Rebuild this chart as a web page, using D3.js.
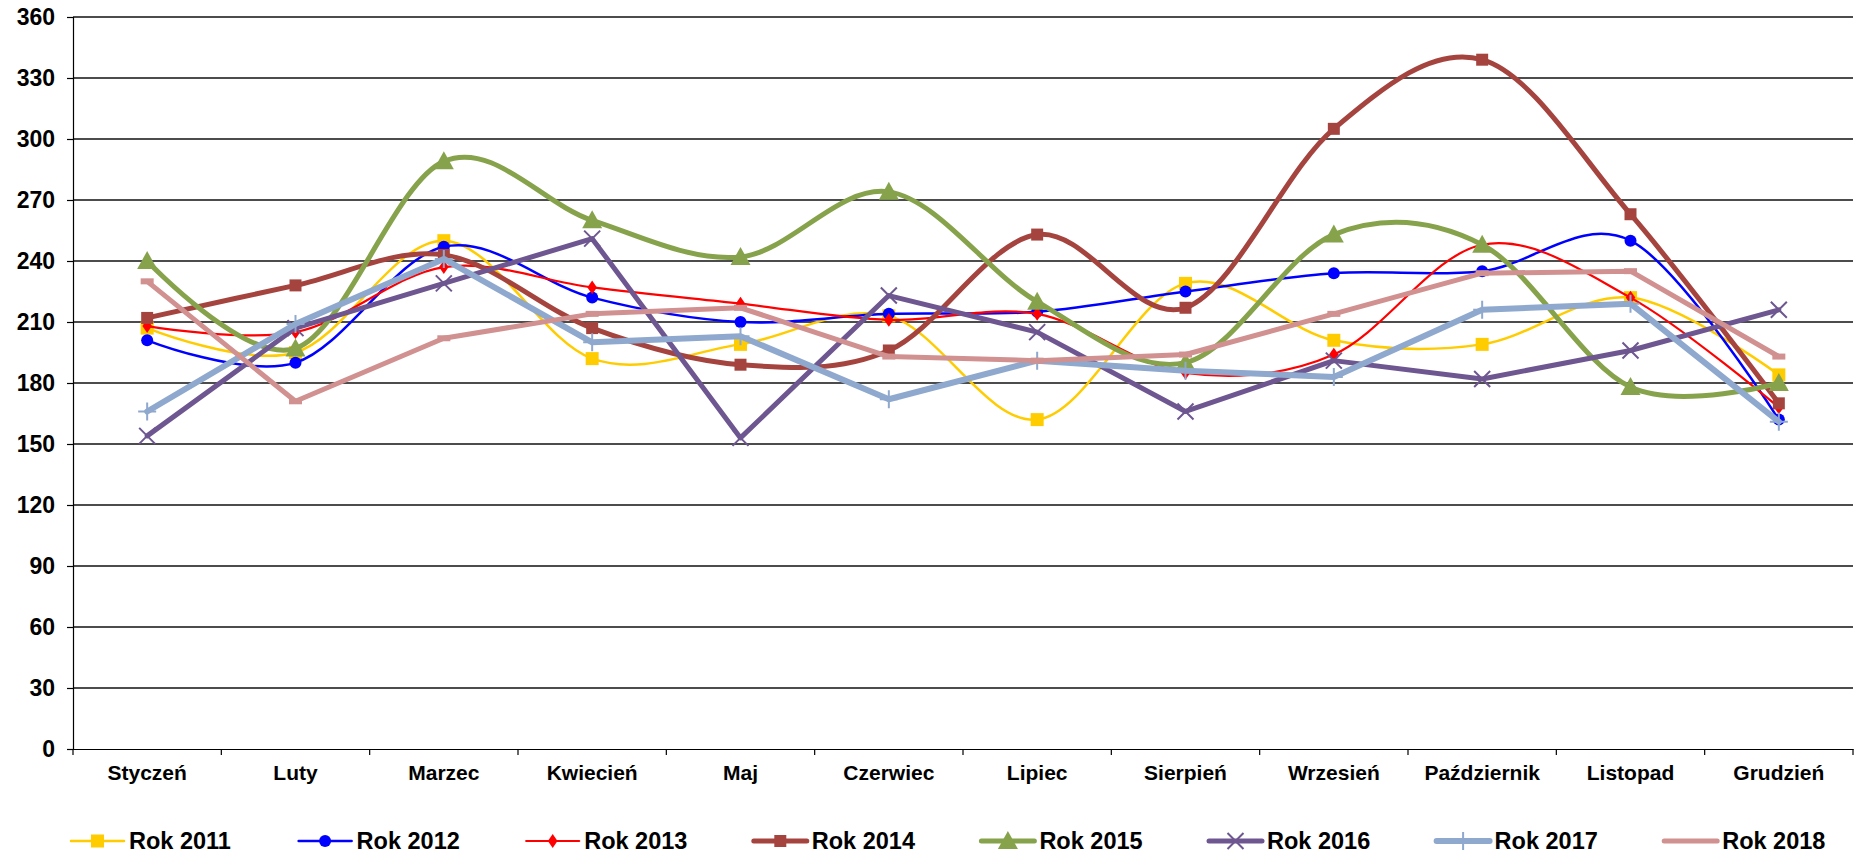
<!DOCTYPE html>
<html>
<head>
<meta charset="utf-8">
<script src="https://cdn.jsdelivr.net/npm/d3@7"></script>
<style>
  html, body { margin: 0; padding: 0; background: #fff; }
  svg { display: block; font-family: "Liberation Sans", Arial, sans-serif; font-weight: bold; }
</style>
</head>
<body>
<svg id="chart" width="1862" height="855"></svg>
<script>
const months = ["Styczeń","Luty","Marzec","Kwiecień","Maj","Czerwiec","Lipiec","Sierpień","Wrzesień","Październik","Listopad","Grudzień"];
const yTicks = [0,30,60,90,120,150,180,210,240,270,300,330,360];

const rok2011 = [207,195,250,192,199,213,162,229,201,199,222,184];
const rok2012 = [201,190,247,222,210,214,215,225,234,235,250,162];
const rok2013 = [208,205,237,227,219,211,214,185,194,248,222,168];
const rok2014 = [212,228,243,207,189,196,253,217,305,339,263,170];
const rok2015 = [240,197,289,260,242,274,220,190,253,248,178,180];
const rok2016 = [154,207,229,251,153,223,205,166,191,182,196,216];
const rok2017 = [166,209,241,200,203,172,191,186,183,216,219,161];
const rok2018 = [230,171,202,214,217,193,191,194,214,234,235,193];

const seriesNames = ["Rok 2011","Rok 2012","Rok 2013","Rok 2014","Rok 2015","Rok 2016","Rok 2017","Rok 2018"];
const seriesValues = [rok2011,rok2012,rok2013,rok2014,rok2015,rok2016,rok2017,rok2018];

const styles = [
  {color:"#FFCC00", width:2.5, smooth:true,  marker:"square",  msize:13},
  {color:"#0000FF", width:2.5, smooth:true,  marker:"circle",  msize:12},
  {color:"#FF0000", width:2.2, smooth:true,  marker:"diamond", msize:12},
  {color:"#A5443F", width:5,   smooth:true,  marker:"square",  msize:12},
  {color:"#86A34C", width:5,   smooth:true,  marker:"triangle",msize:20},
  {color:"#6E5690", width:5,   smooth:false, marker:"x",       msize:16},
  {color:"#8FA8CE", width:6,   smooth:false, marker:"plus",    msize:18},
  {color:"#D09190", width:5,   smooth:false, marker:"dash",    msize:13}
];

const svg = d3.select("#chart");
const L = 73, R = 1853, T = 17, B = 749;

const x = d3.scaleBand().domain(months).range([L, R]).paddingInner(0).paddingOuter(0);
const y = d3.scaleLinear().domain([0, 360]).range([B, T]);
const cx = m => x(m) + x.bandwidth() / 2;

// gridlines
svg.append("g").selectAll("line").data(yTicks.filter(v => v > 0)).join("line")
  .attr("x1", L).attr("x2", R).attr("y1", d => y(d)).attr("y2", d => y(d))
  .attr("stroke", "#111").attr("stroke-width", 1.3);

// y axis
const yAxis = d3.axisLeft(y).tickValues(yTicks).tickSize(6).tickPadding(12).tickFormat(d3.format("d"));
const gy = svg.append("g").attr("transform", `translate(${L},0)`).call(yAxis);
gy.select(".domain").attr("stroke", "#000").attr("stroke-width", 1.2);
gy.selectAll(".tick line").attr("stroke", "#000").attr("stroke-width", 1.2);
gy.selectAll(".tick text").attr("font-size", 23).attr("font-weight", "bold").attr("fill", "#000")
  .attr("font-family", '"Liberation Sans", Arial, sans-serif');

// x axis
const gx = svg.append("g").attr("transform", `translate(0,${B})`)
  .call(d3.axisBottom(x).tickSize(0).tickPadding(16));
gx.select(".domain").attr("stroke", "#000").attr("stroke-width", 1.2);
gx.selectAll(".tick text").attr("font-size", 21).attr("font-weight", "bold").attr("fill", "#000")
  .attr("font-family", '"Liberation Sans", Arial, sans-serif');
// category boundary ticks
svg.append("g").selectAll("line").data(months.concat(["__end"])).join("line")
  .attr("x1", (d, i) => i < months.length ? x(d) : R)
  .attr("x2", (d, i) => i < months.length ? x(d) : R)
  .attr("y1", B).attr("y2", B + 6)
  .attr("stroke", "#000").attr("stroke-width", 1.2);

function markerPath(type, s) {
  const h = s / 2;
  switch (type) {
    case "square": return `M${-h},${-h}H${h}V${h}H${-h}Z`;
    case "circle": return d3.symbol(d3.symbolCircle, Math.PI * h * h)();
    case "diamond": return `M0,${-h * 1.15}L${h * 0.8},0L0,${h * 1.15}L${-h * 0.8},0Z`;
    case "triangle": return `M0,${-h * 1.0}L${h},${h * 0.8}L${-h},${h * 0.8}Z`;
    case "x": return `M${-h},${-h}L${h},${h}M${-h},${h}L${h},${-h}`;
    case "plus": return `M${-h},0H${h}M0,${-h}V${h}`;
    case "dash": return `M${-h},${-3}H${h}V${3}H${-h}Z`;
  }
}
function drawMarker(g, st, tx, ty) {
  const p = g.append("path").attr("d", markerPath(st.marker, st.msize))
    .attr("transform", `translate(${tx},${ty})`);
  if (st.marker === "x" || st.marker === "plus") {
    p.attr("fill", "none").attr("stroke", st.color).attr("stroke-width", 2);
  } else {
    p.attr("fill", st.color).attr("stroke", "none");
  }
}

const plot = svg.append("g");
seriesValues.forEach((vals, si) => {
  const st = styles[si];
  const line = d3.line()
    .x((d, i) => cx(months[i]))
    .y(d => y(d))
    .curve(st.smooth ? d3.curveCatmullRom.alpha(0) : d3.curveLinear);
  const g = plot.append("g");
  g.append("path").datum(vals).attr("d", line)
    .attr("fill", "none").attr("stroke", st.color).attr("stroke-width", st.width)
    .attr("stroke-linejoin", "round").attr("stroke-linecap", "round");
  vals.forEach((v, i) => drawMarker(g, st, cx(months[i]), y(v)));
});

// legend
const legY = 841;
const leg = svg.append("g");
seriesNames.forEach((name, i) => {
  const st = styles[i];
  const x0 = 71 + i * 227.6;
  const g = leg.append("g");
  g.append("line").attr("x1", x0).attr("x2", x0 + 53).attr("y1", legY).attr("y2", legY)
    .attr("stroke", st.color).attr("stroke-width", st.width).attr("stroke-linecap", "round");
  if (st.marker !== "dash") drawMarker(g, st, x0 + 26.5, legY);
  g.append("text").attr("x", x0 + 58).attr("y", legY).attr("dy", "0.35em")
    .attr("font-size", 23.5).attr("font-weight", "bold").attr("fill", "#000").text(name);
});
</script>
</body>
</html>
